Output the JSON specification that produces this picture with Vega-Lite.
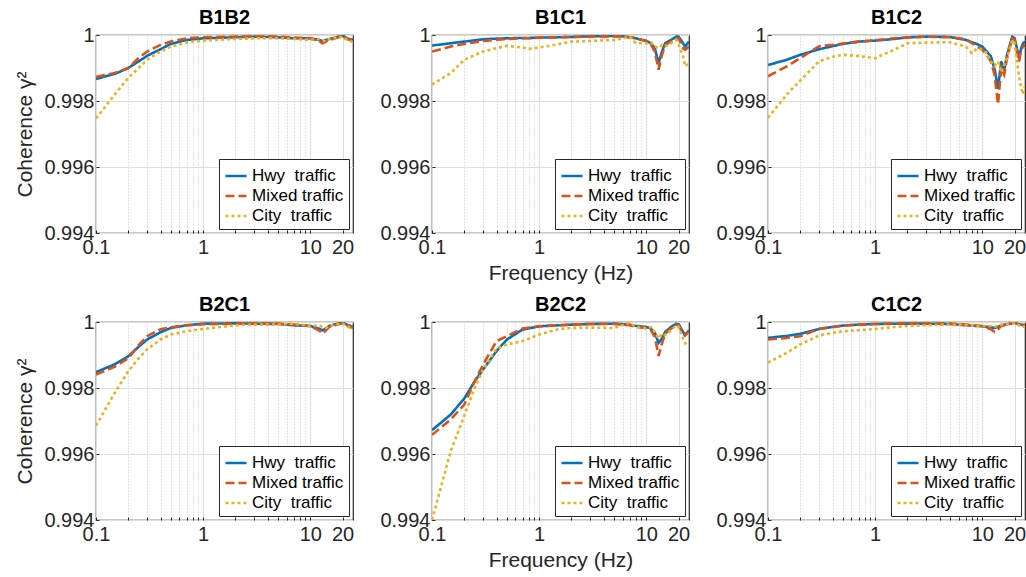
{
"$schema":"https://vega.github.io/schema/vega-lite/v6.json",
"padding":{"left":14,"top":7,"right":0,"bottom":0},
"data":{"values":[
{"p":"B1B2","f":0.1,"Hwy":0.99867,"Mixed":0.99873,"City":0.99747},
{"p":"B1B2","f":0.15,"Hwy":0.99882,"Mixed":0.99885,"City":0.9982},
{"p":"B1B2","f":0.2,"Hwy":0.999,"Mixed":0.999,"City":0.9987},
{"p":"B1B2","f":0.25,"Hwy":0.9992,"Mixed":0.9993,"City":0.999},
{"p":"B1B2","f":0.3,"Hwy":0.99937,"Mixed":0.9995,"City":0.99925},
{"p":"B1B2","f":0.4,"Hwy":0.99957,"Mixed":0.9997,"City":0.9995},
{"p":"B1B2","f":0.5,"Hwy":0.99973,"Mixed":0.9998,"City":0.99965},
{"p":"B1B2","f":0.7,"Hwy":0.99985,"Mixed":0.9999,"City":0.99977},
{"p":"B1B2","f":1,"Hwy":0.9999,"Mixed":0.99993,"City":0.99983},
{"p":"B1B2","f":2,"Hwy":0.99993,"Mixed":0.99995,"City":0.99988},
{"p":"B1B2","f":3,"Hwy":0.99995,"Mixed":0.99995,"City":0.9999},
{"p":"B1B2","f":5,"Hwy":0.99993,"Mixed":0.99995,"City":0.9999},
{"p":"B1B2","f":7,"Hwy":0.9999,"Mixed":0.99992,"City":0.99988},
{"p":"B1B2","f":10,"Hwy":0.9999,"Mixed":0.9999,"City":0.99985},
{"p":"B1B2","f":12,"Hwy":0.99985,"Mixed":0.99982,"City":0.99988},
{"p":"B1B2","f":13,"Hwy":0.99982,"Mixed":0.99975,"City":0.99985},
{"p":"B1B2","f":14,"Hwy":0.99985,"Mixed":0.9998,"City":0.9998},
{"p":"B1B2","f":15,"Hwy":0.99988,"Mixed":0.99985,"City":0.99988},
{"p":"B1B2","f":17,"Hwy":0.99992,"Mixed":0.9999,"City":0.99992},
{"p":"B1B2","f":20,"Hwy":0.99998,"Mixed":0.99996,"City":0.99995},
{"p":"B1B2","f":22,"Hwy":0.9999,"Mixed":0.99988,"City":0.99985},
{"p":"B1B2","f":25,"Hwy":0.99985,"Mixed":0.99983,"City":0.99978},
{"p":"B1C1","f":0.1,"Hwy":0.99968,"Mixed":0.9995,"City":0.9985},
{"p":"B1C1","f":0.15,"Hwy":0.99975,"Mixed":0.99965,"City":0.99885},
{"p":"B1C1","f":0.2,"Hwy":0.9998,"Mixed":0.99973,"City":0.99925},
{"p":"B1C1","f":0.3,"Hwy":0.99987,"Mixed":0.99982,"City":0.9995},
{"p":"B1C1","f":0.4,"Hwy":0.99989,"Mixed":0.99986,"City":0.9996},
{"p":"B1C1","f":0.5,"Hwy":0.9999,"Mixed":0.99988,"City":0.99967},
{"p":"B1C1","f":0.7,"Hwy":0.99991,"Mixed":0.9999,"City":0.99962},
{"p":"B1C1","f":0.8,"Hwy":0.99991,"Mixed":0.9999,"City":0.99958},
{"p":"B1C1","f":1,"Hwy":0.99992,"Mixed":0.99992,"City":0.99962},
{"p":"B1C1","f":1.5,"Hwy":0.99993,"Mixed":0.99993,"City":0.99972},
{"p":"B1C1","f":2,"Hwy":0.99994,"Mixed":0.99994,"City":0.9998},
{"p":"B1C1","f":3,"Hwy":0.99996,"Mixed":0.99995,"City":0.99982},
{"p":"B1C1","f":5,"Hwy":0.99997,"Mixed":0.99996,"City":0.99985},
{"p":"B1C1","f":6,"Hwy":0.99996,"Mixed":0.99995,"City":0.9999},
{"p":"B1C1","f":7,"Hwy":0.99993,"Mixed":0.99993,"City":0.99995},
{"p":"B1C1","f":8,"Hwy":0.9999,"Mixed":0.9999,"City":0.99975},
{"p":"B1C1","f":10,"Hwy":0.99982,"Mixed":0.99982,"City":0.99975},
{"p":"B1C1","f":11,"Hwy":0.99975,"Mixed":0.99972,"City":0.99978},
{"p":"B1C1","f":12,"Hwy":0.9996,"Mixed":0.9995,"City":0.99965},
{"p":"B1C1","f":13,"Hwy":0.99915,"Mixed":0.99895,"City":0.9996},
{"p":"B1C1","f":14,"Hwy":0.9995,"Mixed":0.9994,"City":0.9997},
{"p":"B1C1","f":15,"Hwy":0.99975,"Mixed":0.9997,"City":0.99965},
{"p":"B1C1","f":17,"Hwy":0.99985,"Mixed":0.9998,"City":0.99975},
{"p":"B1C1","f":19,"Hwy":0.99995,"Mixed":0.9999,"City":0.99985},
{"p":"B1C1","f":20,"Hwy":0.99995,"Mixed":0.9999,"City":0.9997},
{"p":"B1C1","f":22,"Hwy":0.99975,"Mixed":0.9996,"City":0.99935},
{"p":"B1C1","f":23,"Hwy":0.99965,"Mixed":0.99955,"City":0.99905},
{"p":"B1C1","f":25,"Hwy":0.9998,"Mixed":0.99965,"City":0.99915},
{"p":"B1C2","f":0.1,"Hwy":0.99909,"Mixed":0.99875,"City":0.99749},
{"p":"B1C2","f":0.15,"Hwy":0.99925,"Mixed":0.99905,"City":0.9982},
{"p":"B1C2","f":0.2,"Hwy":0.9994,"Mixed":0.9993,"City":0.99862},
{"p":"B1C2","f":0.3,"Hwy":0.99957,"Mixed":0.99966,"City":0.9992},
{"p":"B1C2","f":0.4,"Hwy":0.99966,"Mixed":0.9997,"City":0.99934},
{"p":"B1C2","f":0.5,"Hwy":0.99973,"Mixed":0.99974,"City":0.9994},
{"p":"B1C2","f":0.7,"Hwy":0.9998,"Mixed":0.9998,"City":0.99936},
{"p":"B1C2","f":1,"Hwy":0.99983,"Mixed":0.99984,"City":0.9993},
{"p":"B1C2","f":1.5,"Hwy":0.99988,"Mixed":0.9999,"City":0.99955},
{"p":"B1C2","f":2,"Hwy":0.99993,"Mixed":0.99992,"City":0.99975},
{"p":"B1C2","f":3,"Hwy":0.99995,"Mixed":0.99995,"City":0.99977},
{"p":"B1C2","f":5,"Hwy":0.99994,"Mixed":0.99993,"City":0.99978},
{"p":"B1C2","f":7,"Hwy":0.99985,"Mixed":0.99988,"City":0.99965},
{"p":"B1C2","f":8,"Hwy":0.99978,"Mixed":0.99975,"City":0.99945},
{"p":"B1C2","f":9,"Hwy":0.99972,"Mixed":0.99965,"City":0.9996},
{"p":"B1C2","f":10,"Hwy":0.99965,"Mixed":0.99955,"City":0.99955},
{"p":"B1C2","f":11,"Hwy":0.9995,"Mixed":0.9994,"City":0.99945},
{"p":"B1C2","f":12,"Hwy":0.99936,"Mixed":0.9992,"City":0.9992},
{"p":"B1C2","f":13,"Hwy":0.99897,"Mixed":0.9988,"City":0.99906},
{"p":"B1C2","f":14,"Hwy":0.99837,"Mixed":0.9979,"City":0.9992},
{"p":"B1C2","f":15,"Hwy":0.9992,"Mixed":0.999,"City":0.99887},
{"p":"B1C2","f":16,"Hwy":0.99895,"Mixed":0.9988,"City":0.9991},
{"p":"B1C2","f":17,"Hwy":0.9994,"Mixed":0.9993,"City":0.9993},
{"p":"B1C2","f":19,"Hwy":0.99995,"Mixed":0.9999,"City":0.99985},
{"p":"B1C2","f":20,"Hwy":0.9999,"Mixed":0.99985,"City":0.99975},
{"p":"B1C2","f":21,"Hwy":0.9996,"Mixed":0.9995,"City":0.9992},
{"p":"B1C2","f":22,"Hwy":0.9993,"Mixed":0.9992,"City":0.99875},
{"p":"B1C2","f":23,"Hwy":0.9996,"Mixed":0.99955,"City":0.9984},
{"p":"B1C2","f":24,"Hwy":0.99975,"Mixed":0.99965,"City":0.9982},
{"p":"B1C2","f":25,"Hwy":0.9998,"Mixed":0.9997,"City":0.99845},
{"p":"B2C1","f":0.1,"Hwy":0.99848,"Mixed":0.99841,"City":0.99686},
{"p":"B2C1","f":0.15,"Hwy":0.99872,"Mixed":0.99865,"City":0.99786},
{"p":"B2C1","f":0.2,"Hwy":0.99896,"Mixed":0.9989,"City":0.99851},
{"p":"B2C1","f":0.25,"Hwy":0.99925,"Mixed":0.9993,"City":0.9989},
{"p":"B2C1","f":0.3,"Hwy":0.99947,"Mixed":0.99957,"City":0.99917},
{"p":"B2C1","f":0.4,"Hwy":0.99969,"Mixed":0.99978,"City":0.99947},
{"p":"B2C1","f":0.5,"Hwy":0.99982,"Mixed":0.99984,"City":0.99962},
{"p":"B2C1","f":0.7,"Hwy":0.9999,"Mixed":0.9999,"City":0.99972},
{"p":"B2C1","f":1,"Hwy":0.99995,"Mixed":0.99993,"City":0.99979},
{"p":"B2C1","f":2,"Hwy":0.99996,"Mixed":0.99995,"City":0.9999},
{"p":"B2C1","f":3,"Hwy":0.99995,"Mixed":0.99996,"City":0.99992},
{"p":"B2C1","f":5,"Hwy":0.99994,"Mixed":0.99995,"City":0.99992},
{"p":"B2C1","f":7,"Hwy":0.9999,"Mixed":0.99992,"City":0.99995},
{"p":"B2C1","f":10,"Hwy":0.99988,"Mixed":0.99988,"City":0.99988},
{"p":"B2C1","f":12,"Hwy":0.9998,"Mixed":0.99975,"City":0.9999},
{"p":"B2C1","f":13,"Hwy":0.99975,"Mixed":0.99965,"City":0.99985},
{"p":"B2C1","f":14,"Hwy":0.9998,"Mixed":0.99975,"City":0.99982},
{"p":"B2C1","f":15,"Hwy":0.99988,"Mixed":0.99985,"City":0.99988},
{"p":"B2C1","f":17,"Hwy":0.99993,"Mixed":0.9999,"City":0.99993},
{"p":"B2C1","f":20,"Hwy":0.99998,"Mixed":0.99997,"City":0.99995},
{"p":"B2C1","f":22,"Hwy":0.99992,"Mixed":0.9999,"City":0.99988},
{"p":"B2C1","f":25,"Hwy":0.99985,"Mixed":0.99982,"City":0.99975},
{"p":"B2C2","f":0.1,"Hwy":0.99672,"Mixed":0.99658,"City":0.994},
{"p":"B2C2","f":0.15,"Hwy":0.9972,"Mixed":0.99705,"City":0.9961},
{"p":"B2C2","f":0.2,"Hwy":0.99768,"Mixed":0.9975,"City":0.99716},
{"p":"B2C2","f":0.25,"Hwy":0.9982,"Mixed":0.9982,"City":0.998},
{"p":"B2C2","f":0.3,"Hwy":0.99856,"Mixed":0.99871,"City":0.99856},
{"p":"B2C2","f":0.4,"Hwy":0.99912,"Mixed":0.99942,"City":0.99919},
{"p":"B2C2","f":0.5,"Hwy":0.99947,"Mixed":0.99957,"City":0.99932},
{"p":"B2C2","f":0.7,"Hwy":0.99977,"Mixed":0.9998,"City":0.99942},
{"p":"B2C2","f":1,"Hwy":0.99987,"Mixed":0.99987,"City":0.99962},
{"p":"B2C2","f":1.5,"Hwy":0.9999,"Mixed":0.9999,"City":0.99978},
{"p":"B2C2","f":2,"Hwy":0.99992,"Mixed":0.99992,"City":0.99982},
{"p":"B2C2","f":3,"Hwy":0.99994,"Mixed":0.99994,"City":0.99983},
{"p":"B2C2","f":5,"Hwy":0.99995,"Mixed":0.99994,"City":0.99982},
{"p":"B2C2","f":7,"Hwy":0.99992,"Mixed":0.9999,"City":0.99998},
{"p":"B2C2","f":8,"Hwy":0.99988,"Mixed":0.99985,"City":0.99985},
{"p":"B2C2","f":10,"Hwy":0.99985,"Mixed":0.99982,"City":0.9998},
{"p":"B2C2","f":11,"Hwy":0.9998,"Mixed":0.99975,"City":0.99985},
{"p":"B2C2","f":12,"Hwy":0.99967,"Mixed":0.99955,"City":0.9997},
{"p":"B2C2","f":13,"Hwy":0.99937,"Mixed":0.99897,"City":0.9995},
{"p":"B2C2","f":14,"Hwy":0.9995,"Mixed":0.99935,"City":0.99965},
{"p":"B2C2","f":15,"Hwy":0.9997,"Mixed":0.99965,"City":0.9996},
{"p":"B2C2","f":17,"Hwy":0.99985,"Mixed":0.9998,"City":0.99975},
{"p":"B2C2","f":19,"Hwy":0.99995,"Mixed":0.99992,"City":0.9999},
{"p":"B2C2","f":20,"Hwy":0.99993,"Mixed":0.9999,"City":0.99985},
{"p":"B2C2","f":22,"Hwy":0.9997,"Mixed":0.99965,"City":0.9995},
{"p":"B2C2","f":23,"Hwy":0.9996,"Mixed":0.9996,"City":0.99935},
{"p":"B2C2","f":25,"Hwy":0.99975,"Mixed":0.99972,"City":0.99945},
{"p":"C1C2","f":0.1,"Hwy":0.99952,"Mixed":0.99947,"City":0.99877},
{"p":"C1C2","f":0.15,"Hwy":0.99958,"Mixed":0.99952,"City":0.99907},
{"p":"C1C2","f":0.2,"Hwy":0.99964,"Mixed":0.99957,"City":0.99932},
{"p":"C1C2","f":0.3,"Hwy":0.99979,"Mixed":0.99979,"City":0.99959},
{"p":"C1C2","f":0.4,"Hwy":0.99985,"Mixed":0.99985,"City":0.99967},
{"p":"C1C2","f":0.5,"Hwy":0.99989,"Mixed":0.99989,"City":0.99972},
{"p":"C1C2","f":0.7,"Hwy":0.99992,"Mixed":0.99992,"City":0.99975},
{"p":"C1C2","f":1,"Hwy":0.99994,"Mixed":0.99994,"City":0.99979},
{"p":"C1C2","f":2,"Hwy":0.99995,"Mixed":0.99996,"City":0.99988},
{"p":"C1C2","f":3,"Hwy":0.99995,"Mixed":0.99996,"City":0.9999},
{"p":"C1C2","f":5,"Hwy":0.99994,"Mixed":0.99995,"City":0.99992},
{"p":"C1C2","f":7,"Hwy":0.9999,"Mixed":0.99992,"City":0.9999},
{"p":"C1C2","f":10,"Hwy":0.99987,"Mixed":0.99988,"City":0.99988},
{"p":"C1C2","f":12,"Hwy":0.99984,"Mixed":0.99978,"City":0.99988},
{"p":"C1C2","f":13,"Hwy":0.99982,"Mixed":0.9997,"City":0.99985},
{"p":"C1C2","f":14,"Hwy":0.99985,"Mixed":0.99978,"City":0.9999},
{"p":"C1C2","f":15,"Hwy":0.9999,"Mixed":0.99988,"City":0.99992},
{"p":"C1C2","f":17,"Hwy":0.99993,"Mixed":0.99992,"City":0.99994},
{"p":"C1C2","f":20,"Hwy":0.99998,"Mixed":0.99998,"City":0.99998},
{"p":"C1C2","f":22,"Hwy":0.99993,"Mixed":0.99992,"City":0.9999},
{"p":"C1C2","f":25,"Hwy":0.9999,"Mixed":0.9999,"City":0.99985}
]},
"columns":3,
"spacing":{"row":89,"column":79},
"bounds":"flush",
"resolve":{"scale":{"color":"independent","strokeDash":"independent"},"legend":{"color":"independent","strokeDash":"independent"}},
"concat":[
{"title":"B1B2","width":257,"height":198,
"transform":[{"filter":"datum.p === 'B1B2'"},{"fold":["Hwy","Mixed","City"],"as":["s","c"]}],
"encoding":{
"x":{"field":"f","type":"quantitative","scale":{"type":"log","domain":[0.1,25],"nice":false},"axis":{"title":null,"values":[0.1,0.2,0.3,0.4,0.5,0.6,0.7,0.8,0.9,1,2,3,4,5,6,7,8,9,10,20],"labelExpr":"indexof([0.1,1,10,20], datum.value) >= 0 ? format(datum.value,'~g') : ''","labelOverlap":false,"labelFlush":false,"gridDash":{"condition":{"test":"indexof([0.1,1,10,20], datum.value) >= 0","value":[]},"value":[1,2]},"gridColor":{"condition":{"test":"indexof([0.1,1,10,20], datum.value) >= 0","value":"#dedede"},"value":"#c4c4c4"}}},
"y":{"field":"c","type":"quantitative","scale":{"domain":[0.994,1],"nice":false,"zero":false},"axis":{"title":"Coherence γ²","values":[0.994,0.996,0.998,1],"format":"~g"}},
"color":{"field":"s","type":"nominal","scale":{"domain":["Hwy","Mixed","City"],"range":["#0072BD","#D95319","#EDB120"]},"legend":{"title":null,"labelExpr":"datum.label == 'Hwy' ? 'Hwy\u00a0 traffic' : datum.label == 'Mixed' ? 'Mixed traffic' : 'City\u00a0 traffic'"}},
"strokeDash":{"field":"s","type":"nominal","scale":{"domain":["Hwy","Mixed","City"],"range":[[1,0],[9,4],[3,3]]},"legend":{"title":null,"labelExpr":"datum.label == 'Hwy' ? 'Hwy\u00a0 traffic' : datum.label == 'Mixed' ? 'Mixed traffic' : 'City\u00a0 traffic'"}}
},
"layer":[
{"transform":[{"filter":"datum.s === 'Hwy'"}],"mark":{"type":"line","clip":true,"strokeWidth":2.6}},
{"transform":[{"filter":"datum.s === 'Mixed'"}],"mark":{"type":"line","clip":true,"strokeWidth":2.6}},
{"transform":[{"filter":"datum.s === 'City'"}],"mark":{"type":"line","clip":true,"strokeWidth":2.6}}
]},
{"title":"B1C1","width":257,"height":198,
"transform":[{"filter":"datum.p === 'B1C1'"},{"fold":["Hwy","Mixed","City"],"as":["s","c"]}],
"encoding":{
"x":{"field":"f","type":"quantitative","scale":{"type":"log","domain":[0.1,25],"nice":false},"axis":{"title":"Frequency (Hz)","values":[0.1,0.2,0.3,0.4,0.5,0.6,0.7,0.8,0.9,1,2,3,4,5,6,7,8,9,10,20],"labelExpr":"indexof([0.1,1,10,20], datum.value) >= 0 ? format(datum.value,'~g') : ''","labelOverlap":false,"labelFlush":false,"gridDash":{"condition":{"test":"indexof([0.1,1,10,20], datum.value) >= 0","value":[]},"value":[1,2]},"gridColor":{"condition":{"test":"indexof([0.1,1,10,20], datum.value) >= 0","value":"#dedede"},"value":"#c4c4c4"}}},
"y":{"field":"c","type":"quantitative","scale":{"domain":[0.994,1],"nice":false,"zero":false},"axis":{"title":null,"values":[0.994,0.996,0.998,1],"format":"~g"}},
"color":{"field":"s","type":"nominal","scale":{"domain":["Hwy","Mixed","City"],"range":["#0072BD","#D95319","#EDB120"]},"legend":{"title":null,"labelExpr":"datum.label == 'Hwy' ? 'Hwy\u00a0 traffic' : datum.label == 'Mixed' ? 'Mixed traffic' : 'City\u00a0 traffic'"}},
"strokeDash":{"field":"s","type":"nominal","scale":{"domain":["Hwy","Mixed","City"],"range":[[1,0],[9,4],[3,3]]},"legend":{"title":null,"labelExpr":"datum.label == 'Hwy' ? 'Hwy\u00a0 traffic' : datum.label == 'Mixed' ? 'Mixed traffic' : 'City\u00a0 traffic'"}}
},
"layer":[
{"transform":[{"filter":"datum.s === 'Hwy'"}],"mark":{"type":"line","clip":true,"strokeWidth":2.6}},
{"transform":[{"filter":"datum.s === 'Mixed'"}],"mark":{"type":"line","clip":true,"strokeWidth":2.6}},
{"transform":[{"filter":"datum.s === 'City'"}],"mark":{"type":"line","clip":true,"strokeWidth":2.6}}
]},
{"title":"B1C2","width":257,"height":198,
"transform":[{"filter":"datum.p === 'B1C2'"},{"fold":["Hwy","Mixed","City"],"as":["s","c"]}],
"encoding":{
"x":{"field":"f","type":"quantitative","scale":{"type":"log","domain":[0.1,25],"nice":false},"axis":{"title":null,"values":[0.1,0.2,0.3,0.4,0.5,0.6,0.7,0.8,0.9,1,2,3,4,5,6,7,8,9,10,20],"labelExpr":"indexof([0.1,1,10,20], datum.value) >= 0 ? format(datum.value,'~g') : ''","labelOverlap":false,"labelFlush":false,"gridDash":{"condition":{"test":"indexof([0.1,1,10,20], datum.value) >= 0","value":[]},"value":[1,2]},"gridColor":{"condition":{"test":"indexof([0.1,1,10,20], datum.value) >= 0","value":"#dedede"},"value":"#c4c4c4"}}},
"y":{"field":"c","type":"quantitative","scale":{"domain":[0.994,1],"nice":false,"zero":false},"axis":{"title":null,"values":[0.994,0.996,0.998,1],"format":"~g"}},
"color":{"field":"s","type":"nominal","scale":{"domain":["Hwy","Mixed","City"],"range":["#0072BD","#D95319","#EDB120"]},"legend":{"title":null,"labelExpr":"datum.label == 'Hwy' ? 'Hwy\u00a0 traffic' : datum.label == 'Mixed' ? 'Mixed traffic' : 'City\u00a0 traffic'"}},
"strokeDash":{"field":"s","type":"nominal","scale":{"domain":["Hwy","Mixed","City"],"range":[[1,0],[9,4],[3,3]]},"legend":{"title":null,"labelExpr":"datum.label == 'Hwy' ? 'Hwy\u00a0 traffic' : datum.label == 'Mixed' ? 'Mixed traffic' : 'City\u00a0 traffic'"}}
},
"layer":[
{"transform":[{"filter":"datum.s === 'Hwy'"}],"mark":{"type":"line","clip":true,"strokeWidth":2.6}},
{"transform":[{"filter":"datum.s === 'Mixed'"}],"mark":{"type":"line","clip":true,"strokeWidth":2.6}},
{"transform":[{"filter":"datum.s === 'City'"}],"mark":{"type":"line","clip":true,"strokeWidth":2.6}}
]},
{"title":"B2C1","width":257,"height":198,
"transform":[{"filter":"datum.p === 'B2C1'"},{"fold":["Hwy","Mixed","City"],"as":["s","c"]}],
"encoding":{
"x":{"field":"f","type":"quantitative","scale":{"type":"log","domain":[0.1,25],"nice":false},"axis":{"title":null,"values":[0.1,0.2,0.3,0.4,0.5,0.6,0.7,0.8,0.9,1,2,3,4,5,6,7,8,9,10,20],"labelExpr":"indexof([0.1,1,10,20], datum.value) >= 0 ? format(datum.value,'~g') : ''","labelOverlap":false,"labelFlush":false,"gridDash":{"condition":{"test":"indexof([0.1,1,10,20], datum.value) >= 0","value":[]},"value":[1,2]},"gridColor":{"condition":{"test":"indexof([0.1,1,10,20], datum.value) >= 0","value":"#dedede"},"value":"#c4c4c4"}}},
"y":{"field":"c","type":"quantitative","scale":{"domain":[0.994,1],"nice":false,"zero":false},"axis":{"title":"Coherence γ²","values":[0.994,0.996,0.998,1],"format":"~g"}},
"color":{"field":"s","type":"nominal","scale":{"domain":["Hwy","Mixed","City"],"range":["#0072BD","#D95319","#EDB120"]},"legend":{"title":null,"labelExpr":"datum.label == 'Hwy' ? 'Hwy\u00a0 traffic' : datum.label == 'Mixed' ? 'Mixed traffic' : 'City\u00a0 traffic'"}},
"strokeDash":{"field":"s","type":"nominal","scale":{"domain":["Hwy","Mixed","City"],"range":[[1,0],[9,4],[3,3]]},"legend":{"title":null,"labelExpr":"datum.label == 'Hwy' ? 'Hwy\u00a0 traffic' : datum.label == 'Mixed' ? 'Mixed traffic' : 'City\u00a0 traffic'"}}
},
"layer":[
{"transform":[{"filter":"datum.s === 'Hwy'"}],"mark":{"type":"line","clip":true,"strokeWidth":2.6}},
{"transform":[{"filter":"datum.s === 'Mixed'"}],"mark":{"type":"line","clip":true,"strokeWidth":2.6}},
{"transform":[{"filter":"datum.s === 'City'"}],"mark":{"type":"line","clip":true,"strokeWidth":2.6}}
]},
{"title":"B2C2","width":257,"height":198,
"transform":[{"filter":"datum.p === 'B2C2'"},{"fold":["Hwy","Mixed","City"],"as":["s","c"]}],
"encoding":{
"x":{"field":"f","type":"quantitative","scale":{"type":"log","domain":[0.1,25],"nice":false},"axis":{"title":"Frequency (Hz)","values":[0.1,0.2,0.3,0.4,0.5,0.6,0.7,0.8,0.9,1,2,3,4,5,6,7,8,9,10,20],"labelExpr":"indexof([0.1,1,10,20], datum.value) >= 0 ? format(datum.value,'~g') : ''","labelOverlap":false,"labelFlush":false,"gridDash":{"condition":{"test":"indexof([0.1,1,10,20], datum.value) >= 0","value":[]},"value":[1,2]},"gridColor":{"condition":{"test":"indexof([0.1,1,10,20], datum.value) >= 0","value":"#dedede"},"value":"#c4c4c4"}}},
"y":{"field":"c","type":"quantitative","scale":{"domain":[0.994,1],"nice":false,"zero":false},"axis":{"title":null,"values":[0.994,0.996,0.998,1],"format":"~g"}},
"color":{"field":"s","type":"nominal","scale":{"domain":["Hwy","Mixed","City"],"range":["#0072BD","#D95319","#EDB120"]},"legend":{"title":null,"labelExpr":"datum.label == 'Hwy' ? 'Hwy\u00a0 traffic' : datum.label == 'Mixed' ? 'Mixed traffic' : 'City\u00a0 traffic'"}},
"strokeDash":{"field":"s","type":"nominal","scale":{"domain":["Hwy","Mixed","City"],"range":[[1,0],[9,4],[3,3]]},"legend":{"title":null,"labelExpr":"datum.label == 'Hwy' ? 'Hwy\u00a0 traffic' : datum.label == 'Mixed' ? 'Mixed traffic' : 'City\u00a0 traffic'"}}
},
"layer":[
{"transform":[{"filter":"datum.s === 'Hwy'"}],"mark":{"type":"line","clip":true,"strokeWidth":2.6}},
{"transform":[{"filter":"datum.s === 'Mixed'"}],"mark":{"type":"line","clip":true,"strokeWidth":2.6}},
{"transform":[{"filter":"datum.s === 'City'"}],"mark":{"type":"line","clip":true,"strokeWidth":2.6}}
]},
{"title":"C1C2","width":257,"height":198,
"transform":[{"filter":"datum.p === 'C1C2'"},{"fold":["Hwy","Mixed","City"],"as":["s","c"]}],
"encoding":{
"x":{"field":"f","type":"quantitative","scale":{"type":"log","domain":[0.1,25],"nice":false},"axis":{"title":null,"values":[0.1,0.2,0.3,0.4,0.5,0.6,0.7,0.8,0.9,1,2,3,4,5,6,7,8,9,10,20],"labelExpr":"indexof([0.1,1,10,20], datum.value) >= 0 ? format(datum.value,'~g') : ''","labelOverlap":false,"labelFlush":false,"gridDash":{"condition":{"test":"indexof([0.1,1,10,20], datum.value) >= 0","value":[]},"value":[1,2]},"gridColor":{"condition":{"test":"indexof([0.1,1,10,20], datum.value) >= 0","value":"#dedede"},"value":"#c4c4c4"}}},
"y":{"field":"c","type":"quantitative","scale":{"domain":[0.994,1],"nice":false,"zero":false},"axis":{"title":null,"values":[0.994,0.996,0.998,1],"format":"~g"}},
"color":{"field":"s","type":"nominal","scale":{"domain":["Hwy","Mixed","City"],"range":["#0072BD","#D95319","#EDB120"]},"legend":{"title":null,"labelExpr":"datum.label == 'Hwy' ? 'Hwy\u00a0 traffic' : datum.label == 'Mixed' ? 'Mixed traffic' : 'City\u00a0 traffic'"}},
"strokeDash":{"field":"s","type":"nominal","scale":{"domain":["Hwy","Mixed","City"],"range":[[1,0],[9,4],[3,3]]},"legend":{"title":null,"labelExpr":"datum.label == 'Hwy' ? 'Hwy\u00a0 traffic' : datum.label == 'Mixed' ? 'Mixed traffic' : 'City\u00a0 traffic'"}}
},
"layer":[
{"transform":[{"filter":"datum.s === 'Hwy'"}],"mark":{"type":"line","clip":true,"strokeWidth":2.6}},
{"transform":[{"filter":"datum.s === 'Mixed'"}],"mark":{"type":"line","clip":true,"strokeWidth":2.6}},
{"transform":[{"filter":"datum.s === 'City'"}],"mark":{"type":"line","clip":true,"strokeWidth":2.6}}
]}
],
"config":{
"font":"Liberation Sans",
"view":{"stroke":"#262626","strokeWidth":1.2},
"title":{"font":"Liberation Sans","fontSize":20,"fontWeight":"bold","color":"#000000","offset":-3,"anchor":"middle"},
"axis":{"labelFont":"Liberation Sans","labelFontSize":20,"labelColor":"#262626","titleFont":"Liberation Sans","titleFontSize":21,"titleFontWeight":"normal","titleColor":"#262626","domain":false,"gridColor":"#dedede","gridWidth":1,"tickColor":"#262626","tickSize":-3,"labelPadding":4},
"axisY":{"titlePadding":8,"labelPadding":5},
"axisX":{"titlePadding":5,"labelPadding":7},
"legend":{"orient":"bottom-right","offset":4,"fillColor":"#ffffff","strokeColor":"#262626","strokeWidth":1,"padding":5,"cornerRadius":0,"labelFont":"Liberation Sans","labelFontSize":17,"labelColor":"#000000","symbolType":"stroke","symbolSize":441,"symbolStrokeWidth":2.6,"rowPadding":0,"labelOffset":4,"labelLimit":200}
}
}
